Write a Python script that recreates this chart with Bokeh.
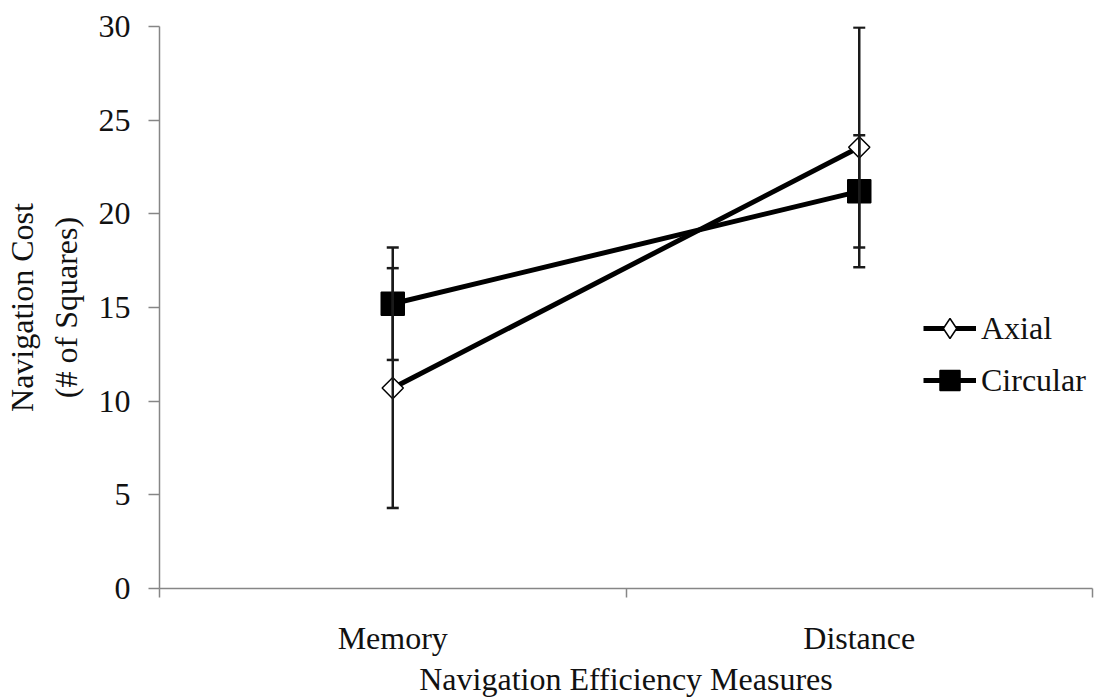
from bokeh.plotting import figure
from bokeh.models import (Range1d, LinearAxis, FixedTicker, Whisker,
                          TeeHead, ColumnDataSource, Legend, LegendItem)
from bokeh.embed import file_html
from bokeh.resources import INLINE

categories = ["Memory", "Distance"]
series_names = ["Axial", "Circular"]
axial_mean = [10.7, 23.55]
axial_err = [6.4, 6.4]
circular_mean = [15.2, 21.2]
circular_err = [3.0, 3.0]
y_ticks = [0, 5, 10, 15, 20, 25, 30]

FONT = "Liberation Serif"
AXIS_COLOR = "#868686"
FS = "32px"
TXT = "#111111"

n = len(categories)
xpos = [i + 0.5 for i in range(n)]  # category centres on the linear scale

p = figure(x_range=Range1d(0, n), y_range=Range1d(0, 30),
           frame_width=933, frame_height=562,
           output_backend="svg", toolbar_location=None,
           x_axis_location=None, min_border_left=159, min_border_right=5,
           min_border_top=26, min_border_bottom=10)
p.outline_line_color = None
p.grid.visible = False
p.background_fill_color = "white"
p.border_fill_color = "white"

xaxis = LinearAxis(ticker=FixedTicker(ticks=xpos, minor_ticks=list(range(n + 1))),
                   major_label_overrides={x: c for x, c in zip(xpos, categories)})
xaxis.axis_label = "Navigation Efficiency Measures"
xaxis.major_tick_out = 0
xaxis.major_tick_in = 0
xaxis.minor_tick_out = 9
xaxis.minor_tick_in = 0
xaxis.minor_tick_line_color = AXIS_COLOR
xaxis.minor_tick_line_width = 1.5
xaxis.axis_line_color = AXIS_COLOR
xaxis.axis_line_width = 1.5
xaxis.major_label_text_font = FONT
xaxis.major_label_text_font_size = FS
xaxis.major_label_text_color = TXT
xaxis.major_label_standoff = 22
xaxis.axis_label_text_font = FONT
xaxis.axis_label_text_font_size = FS
xaxis.axis_label_text_font_style = "normal"
xaxis.axis_label_text_color = TXT
xaxis.axis_label_standoff = 2
p.add_layout(xaxis, "below")

yaxis = p.yaxis[0]
yaxis.ticker = FixedTicker(ticks=y_ticks)
yaxis.minor_tick_line_color = None
yaxis.major_tick_out = 11
yaxis.major_tick_in = 0
yaxis.major_tick_line_color = AXIS_COLOR
yaxis.major_tick_line_width = 1.5
yaxis.axis_line_color = AXIS_COLOR
yaxis.axis_line_width = 1.5
yaxis.major_label_text_font = FONT
yaxis.major_label_text_font_size = FS
yaxis.major_label_text_color = TXT
yaxis.major_label_standoff = 18
yaxis.axis_label = "Navigation Cost\n(# of Squares)"
yaxis.axis_label_text_font = FONT
yaxis.axis_label_text_font_size = FS
yaxis.axis_label_text_font_style = "normal"
yaxis.axis_label_text_color = TXT
yaxis.axis_label_standoff = 12

means = [axial_mean, circular_mean]
errs = [axial_err, circular_err]
markers = ["square", "square"]
angles = [0.785398, 0.0]
sizes = [15, 23]
fills = ["white", "black"]
legend_markers = ["diamond", "square"]

for name, m, e in zip(series_names, means, errs):
    src = ColumnDataSource(dict(x=xpos, y=m,
                                lo=[a - b for a, b in zip(m, e)],
                                hi=[a + b for a, b in zip(m, e)]))
    w = Whisker(source=src, base="x", lower="lo", upper="hi", dimension="height",
                line_color="#1a1a1a", line_width=2.5, level="glyph",
                upper_head=TeeHead(size=12, line_width=2.5, line_color="#1a1a1a"),
                lower_head=TeeHead(size=12, line_width=2.5, line_color="#1a1a1a"))
    p.add_layout(w)

lines = []
for name, m in zip(series_names, means):
    src = ColumnDataSource(dict(x=xpos, y=m))
    lines.append(p.line("x", "y", source=src, line_color="black", line_width=5))

items = []
for i, (name, m, mk, ang, sz, fc, lmk) in enumerate(
        zip(series_names, means, markers, angles, sizes, fills, legend_markers)):
    src = ColumnDataSource(dict(x=xpos, y=m))
    p.scatter("x", "y", source=src, marker=mk, angle=ang, size=sz,
              fill_color=fc, line_color="black", line_width=1.5)
    # legend swatch (the legend never rotates markers, so a diamond marker is used there)
    swatch = p.scatter(x=[float("nan")], y=[float("nan")], marker=lmk, size=sz,
                       fill_color=fc, line_color="black", line_width=1.5)
    items.append(LegendItem(label=name, renderers=[lines[i], swatch]))

legend = Legend(items=items, location=(764, 183), glyph_width=53, glyph_height=50,
                spacing=2, padding=0, margin=0, label_standoff=5,
                label_text_font=FONT, label_text_font_size=FS,
                label_text_color=TXT,
                border_line_color=None, background_fill_alpha=0)
p.add_layout(legend, "center")

open("out.html", "w").write(file_html(p, INLINE))
